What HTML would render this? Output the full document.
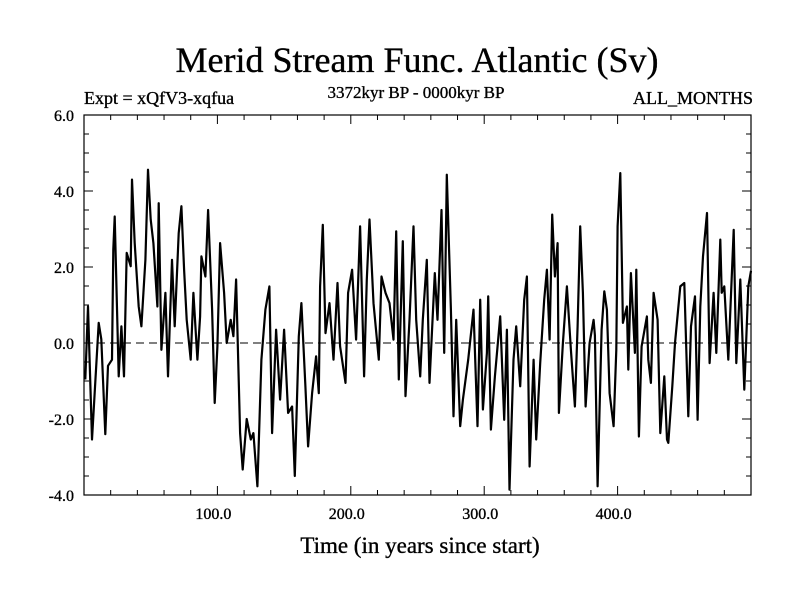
<!DOCTYPE html>
<html><head><meta charset="utf-8"><style>
body{margin:0;background:#fff;}
svg text{font-family:"Liberation Serif",serif;fill:#000;stroke:#000;stroke-width:0.35;}
</style></head><body>
<svg id="chart" width="800" height="600" viewBox="0 0 800 600" xmlns="http://www.w3.org/2000/svg">
<rect width="800" height="600" fill="#fff"/>
<text x="417" y="72" font-size="36" text-anchor="middle">Merid Stream Func. Atlantic (Sv)</text>
<text x="84" y="104" font-size="18">Expt = xQfV3-xqfua</text>
<text x="416" y="98" font-size="17" text-anchor="middle">3372kyr BP - 0000kyr BP</text>
<text x="753" y="104" font-size="18" text-anchor="end">ALL_MONTHS</text>
<text x="420" y="553" font-size="23" text-anchor="middle">Time (in years since start)</text>
<g id="axes"></g>
<g id="plot"></g>
</svg>
<script>
const years=[1,3,6,8,11,13,16,18,21,22,23,26,28,30,32,35,36,38,41,43,46,48,50,52,55,56,58,61,63,66,68,71,73,75,77,80,82,85,87,88,91,93,96,98,100,102,105,107,110,112,114,117,119,122,125,127,130,133,136,139,141,144,147,150,153,156,158,161,163,166,168,171,174,176,177,179,181,184,187,190,192,196,198,201,204,207,210,212,214,217,221,223,226,229,232,234,236,239,241,244,247,249,252,254,257,259,263,265,268,270,272,275,277,279,282,284,288,292,295,297,299,302,303,305,308,312,315,317,319,322,324,327,330,332,334,337,339,342,345,347,349,351,353,355,356,359,362,365,368,370,372,374,376,379,382,383,385,388,390,392,394,397,399,400,402,404,407,408,410,413,414,416,418,422,423,425,427,430,432,435,437,438,441,443,447,450,453,455,458,460,462,464,467,469,472,474,477,478,480,483,487,489,492,495,498,500];
const values=[-0.96,0.96,-2.54,-1.3,0.53,0.1,-2.4,-0.6,-0.44,2.46,3.33,-0.88,0.44,-0.88,2.37,2.02,4.3,2.63,0.96,0.44,2.19,4.56,3.25,2.63,0.96,3.68,-0.18,1.32,-0.88,2.19,0.44,2.89,3.6,1.93,0.61,-0.44,1.32,-0.44,0.7,2.28,1.75,3.5,0.88,-1.58,-0.09,2.63,1.32,0,0.61,0.18,1.67,-2.37,-3.33,-2.0,-2.54,-2.37,-3.77,-0.44,0.88,1.49,-2.37,0.35,-1.49,0.35,-1.84,-1.67,-3.5,0.18,1.05,-1.14,-2.72,-1.32,-0.35,-1.32,1.49,3.11,0.26,1.05,-0.44,1.58,-0.09,-1.05,1.32,1.93,0.09,3.07,-0.88,1.67,3.25,1.05,-0.44,1.75,1.32,1.05,0.09,2.94,-0.96,2.68,-1.4,0.61,3.07,0.61,-0.88,0.61,2.19,-1.05,1.84,0.61,3.5,-0.26,4.43,0.88,-1.93,0.61,-2.19,-1.49,-0.44,0.88,-2.19,1.14,-1.75,-0.26,1.23,-2.28,-0.88,0.7,-2.02,0.35,-3.86,-0.44,0.44,-1.14,1.14,1.75,-3.25,-0.44,-2.54,-0.53,1.14,1.93,0.09,3.38,1.75,2.63,-1.84,0,1.49,-0.18,-1.67,0.44,3.07,1.32,-1.67,0,0.61,0.2,-3.77,0.35,1.36,0.88,-1.32,-2.19,-0.18,3.07,4.47,0.53,0.96,-0.7,1.84,-0.26,1.93,-2.46,-0.09,0.7,-0.44,-1.05,1.32,0.61,-2.37,-0.88,-2.54,-2.63,-1.14,0,1.49,1.58,-1.93,0.44,1.23,-2.02,0.96,2.28,3.42,-0.53,1.32,-0.26,2.72,1.32,1.49,-0.44,2.98,-0.53,1.67,-1.23,1.49,1.9];
const yTicks=[-4,-2,0,2,4,6];
const yTickLabels=["-4.0","-2.0","0.0","2.0","4.0","6.0"];
const xTicks=[100,200,300,400];
const xTickLabels=["100.0","200.0","300.0","400.0"];
const X0=84,X1=751,Y0=115,Y1=495,xmin=0,xmax=500,ymin=-4,ymax=6;
function sx(v){return X0+(v-xmin)/(xmax-xmin)*(X1-X0);}
function sy(v){return Y1-(v-ymin)/(ymax-ymin)*(Y1-Y0);}
const NS="http://www.w3.org/2000/svg";
const axes=document.getElementById('axes'),plot=document.getElementById('plot');
function mk(tag,attrs,parent){const e=document.createElementNS(NS,tag);for(const k in attrs)e.setAttribute(k,attrs[k]);parent.appendChild(e);return e;}
const z=mk('line',{x1:X0,x2:X1,y1:sy(0),y2:sy(0),stroke:'#000','stroke-width':1,'stroke-dasharray':'8,5'},axes);


let d='';
for(let i=0;i<years.length;i++){d+=(i?'L':'M')+sx(years[i]).toFixed(1)+','+sy(values[i]).toFixed(1);}
const p=mk('path',{d:d,fill:'none',stroke:'#000','stroke-width':2.2,'stroke-linejoin':'round'},plot);


const f=mk('rect',{x:X0,y:Y0,width:X1-X0,height:Y1-Y0,fill:'none',stroke:'#000','stroke-width':1.2},axes);


for(let v=ymin;v<=ymax+1e-9;v+=0.5){const y=sy(v);const L=(Math.abs(v%2)<1e-9)?9:5;
 mk('line',{x1:X0,x2:X0+L,y1:y,y2:y,stroke:'#000'},axes);mk('line',{x1:X1,x2:X1-L,y1:y,y2:y,stroke:'#000'},axes);}
for(let v=20;v<xmax;v+=20){const x=sx(v);const L=(v%100===0)?9:5;
 mk('line',{x1:x,x2:x,y1:Y1,y2:Y1-L,stroke:'#000'},axes);mk('line',{x1:x,x2:x,y1:Y0,y2:Y0+L,stroke:'#000'},axes);}
yTicks.forEach((v,i)=>{const t=mk('text',{x:74,y:sy(v)+6,'font-size':16,'text-anchor':'end'},axes);t.textContent=yTickLabels[i];
 
 });
xTicks.forEach((v,i)=>{const t=mk('text',{x:sx(v)-4,y:519,'font-size':16,'text-anchor':'middle'},axes);t.textContent=xTickLabels[i];
 
 });
</script>
</body></html>
